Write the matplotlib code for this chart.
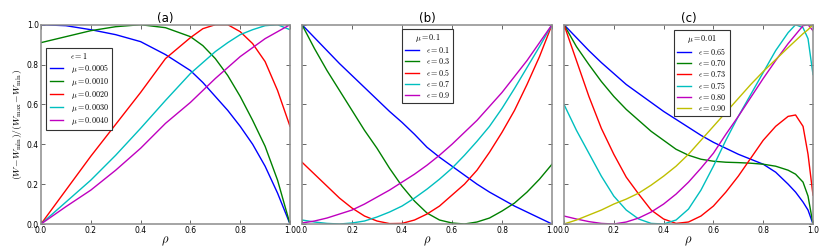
import matplotlib

matplotlib.use("Agg")
import matplotlib.pyplot as plt

plt.rcParams.update({"font.family": "DejaVu Sans", "mathtext.fontset": "cm",
                     "xtick.direction": "in", "ytick.direction": "in",
                     "xtick.top": True, "ytick.right": True})

# --- panel (a): eps = 1, varying mu -------------------------------------------
rho_a = [0.0, 0.1, 0.2, 0.3, 0.4, 0.5, 0.6, 0.65, 0.7, 0.75, 0.8, 0.85, 0.9, 0.95, 1.0]
a_labels = [r"$\mu=0.0005$", r"$\mu=0.0010$", r"$\mu=0.0020$", r"$\mu=0.0030$", r"$\mu=0.0040$"]
a_mu0005 = [1.0, 0.995, 0.975, 0.95, 0.915, 0.85, 0.77, 0.71, 0.64, 0.57, 0.49, 0.40, 0.29, 0.155, 0.0]
a_mu0010 = [0.91, 0.94, 0.97, 0.99, 1.0, 0.985, 0.94, 0.895, 0.83, 0.745, 0.64, 0.52, 0.39, 0.22, 0.0]
a_mu0020 = [0.0, 0.17, 0.34, 0.50, 0.66, 0.83, 0.935, 0.98, 1.0, 1.0, 0.965, 0.905, 0.815, 0.67, 0.49]
a_mu0030 = [0.0, 0.11, 0.22, 0.345, 0.48, 0.62, 0.755, 0.81, 0.865, 0.91, 0.95, 0.975, 0.995, 1.0, 0.975]
a_mu0040 = [0.0, 0.087, 0.17, 0.27, 0.38, 0.505, 0.61, 0.67, 0.73, 0.785, 0.84, 0.885, 0.93, 0.965, 1.0]

# --- panel (b): mu = 0.1, varying eps ------------------------------------------
rho_b = [0.0, 0.05, 0.1, 0.15, 0.2, 0.25, 0.3, 0.35, 0.4, 0.45, 0.5,
         0.55, 0.6, 0.65, 0.7, 0.75, 0.8, 0.85, 0.9, 0.95, 1.0]
b_labels = [r"$\epsilon=0.1$", r"$\epsilon=0.3$", r"$\epsilon=0.5$", r"$\epsilon=0.7$", r"$\epsilon=0.9$"]
b_eps01 = [1.0, 0.935, 0.87, 0.805, 0.745, 0.685, 0.625, 0.565, 0.51, 0.45, 0.385,
           0.335, 0.29, 0.245, 0.20, 0.16, 0.125, 0.09, 0.06, 0.03, 0.0]
b_eps03 = [1.0, 0.88, 0.77, 0.67, 0.57, 0.47, 0.38, 0.28, 0.19, 0.115, 0.055,
           0.02, 0.005, 0.0, 0.01, 0.03, 0.065, 0.105, 0.16, 0.225, 0.30]
b_eps05 = [0.31, 0.25, 0.19, 0.13, 0.08, 0.04, 0.015, 0.002, 0.003, 0.02, 0.05,
           0.09, 0.145, 0.20, 0.27, 0.36, 0.46, 0.57, 0.70, 0.84, 1.0]
b_eps07 = [0.02, 0.01, 0.003, 0.0, 0.005, 0.015, 0.035, 0.06, 0.09, 0.13, 0.175,
           0.225, 0.28, 0.345, 0.415, 0.49, 0.58, 0.68, 0.785, 0.89, 1.0]
b_eps09 = [0.005, 0.015, 0.03, 0.05, 0.07, 0.10, 0.135, 0.17, 0.21, 0.25, 0.295,
           0.345, 0.40, 0.46, 0.52, 0.59, 0.66, 0.74, 0.82, 0.91, 1.0]

# --- panel (c): mu = 0.01, varying eps -----------------------------------------
rho_c = [0.0, 0.05, 0.1, 0.15, 0.2, 0.25, 0.3, 0.35, 0.4, 0.45, 0.5, 0.55, 0.6,
         0.65, 0.7, 0.75, 0.8, 0.85, 0.9, 0.93, 0.96, 0.98, 1.0]
c_labels = [r"$\epsilon=0.65$", r"$\epsilon=0.70$", r"$\epsilon=0.73$",
            r"$\epsilon=0.75$", r"$\epsilon=0.80$", r"$\epsilon=0.90$"]
c_eps065 = [1.0, 0.935, 0.87, 0.81, 0.755, 0.70, 0.655, 0.61, 0.565, 0.525, 0.485, 0.445, 0.41,
            0.38, 0.35, 0.325, 0.30, 0.26, 0.20, 0.16, 0.11, 0.07, 0.0]
c_eps070 = [1.0, 0.89, 0.80, 0.715, 0.64, 0.575, 0.52, 0.465, 0.42, 0.375, 0.345, 0.325, 0.315,
            0.31, 0.308, 0.305, 0.30, 0.29, 0.27, 0.25, 0.21, 0.14, 0.0]
c_eps073 = [1.0, 0.82, 0.64, 0.48, 0.35, 0.235, 0.15, 0.07, 0.025, 0.003, 0.01, 0.04, 0.09,
            0.16, 0.24, 0.33, 0.42, 0.49, 0.54, 0.547, 0.49, 0.35, 0.145]
c_eps075 = [0.60, 0.47, 0.355, 0.24, 0.14, 0.07, 0.025, 0.003, 0.0, 0.02, 0.075, 0.17, 0.29,
            0.42, 0.54, 0.65, 0.76, 0.87, 0.96, 1.0, 0.985, 0.93, 0.75]
c_eps080 = [0.04, 0.025, 0.012, 0.003, 0.0, 0.01, 0.03, 0.06, 0.10, 0.15, 0.21, 0.28, 0.355,
            0.45, 0.54, 0.635, 0.73, 0.82, 0.905, 0.95, 0.995, 1.0, 0.97]
c_eps090 = [0.0, 0.02, 0.045, 0.07, 0.10, 0.125, 0.155, 0.195, 0.24, 0.29, 0.35, 0.42, 0.49,
            0.56, 0.63, 0.70, 0.765, 0.825, 0.885, 0.92, 0.955, 0.975, 1.0]

colors = ["b", "g", "r", "c", "m", "y"]

fig = plt.figure(figsize=(8.3, 2.49), dpi=100)
W, H = 830.0, 249.0
bot, top = 224.0, 24.7
axes = [fig.add_axes([l / W, (H - bot) / H, (r - l) / W, (bot - top) / H])
        for l, r in [(41, 290), (302, 552), (564, 813)]]

panels = [
    (rho_a, [a_mu0005, a_mu0010, a_mu0020, a_mu0030, a_mu0040], a_labels, "(a)", r"$\epsilon=1$"),
    (rho_b, [b_eps01, b_eps03, b_eps05, b_eps07, b_eps09], b_labels, "(b)", r"$\mu=0.1$"),
    (rho_c, [c_eps065, c_eps070, c_eps073, c_eps075, c_eps080, c_eps090], c_labels, "(c)", r"$\mu=0.01$"),
]
leg_pos = [("upper left", (0.012, 0.895)), ("upper center", (0.502, 0.99)), ("upper center", (0.553, 0.985))]

for i, (ax, (rho, series, labels, title, ltitle)) in enumerate(zip(axes, panels)):
    for ys, lab, col in zip(series, labels, colors):
        ax.plot(rho, ys, color=col, lw=1.0, label=lab)
    ax.set_xlim(0, 1); ax.set_ylim(0, 1)
    ax.set_xticks([0, 0.2, 0.4, 0.6, 0.8, 1.0])
    ax.set_yticks([0, 0.2, 0.4, 0.6, 0.8, 1.0])
    ax.tick_params(labelsize=5.5, length=3, width=0.6, pad=1.5, color="0.3")
    for s in ax.spines.values():
        s.set_color("0.55"); s.set_linewidth(1.1)
    ax.set_xlabel(r"$\rho$", fontsize=9, labelpad=0)
    ax.set_title(title, fontsize=8.5, pad=2)
    if i > 0:
        ax.set_yticklabels([])
    loc, anchor = leg_pos[i]
    leg = ax.legend(loc=loc, bbox_to_anchor=anchor, fontsize=5.8, title=ltitle, title_fontsize=5.8,
                    fancybox=False, handlelength=1.7, labelspacing=0.12, borderpad=0.4,
                    handletextpad=0.9, borderaxespad=0.3, framealpha=1.0)
    leg.get_frame().set_edgecolor("0.2"); leg.get_frame().set_linewidth(0.8)

axes[0].set_ylabel(r"$(W\!-\!W_{\min})/(W_{\max}\!-\!W_{\min})$", fontsize=7, labelpad=2)

fig.savefig("out.png", dpi=100)
